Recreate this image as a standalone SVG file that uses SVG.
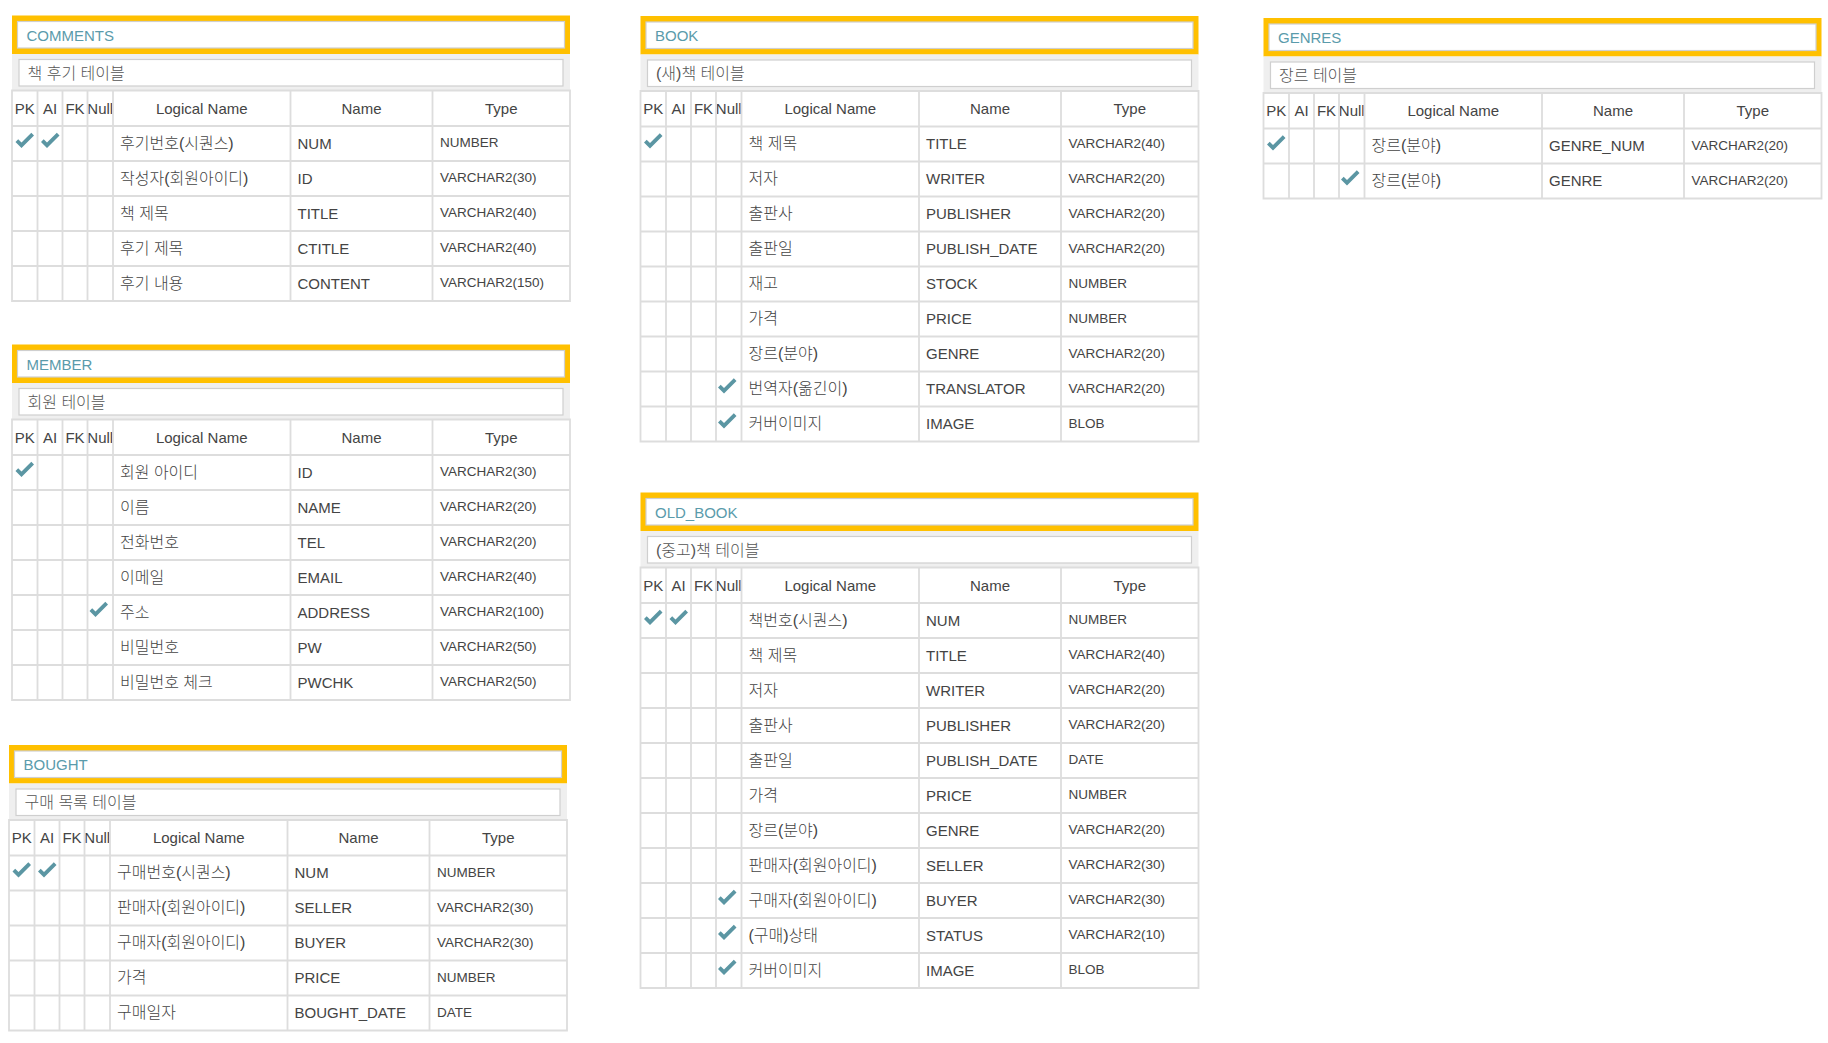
<svg xmlns="http://www.w3.org/2000/svg" xmlns:xlink="http://www.w3.org/1999/xlink" width="1828" height="1043" viewBox="0 0 1828 1043">
<style>
text{font-family:"Liberation Sans","Noto Sans CJK KR",Arial,sans-serif}
.ob{fill:#FFC000}
.ib{fill:#fff;stroke:#cfcfcf;stroke-width:1.2}
.sb{fill:#efefef}
.g{fill:none;stroke:#dddddd;stroke-width:1.8}
.t{font-size:15px;fill:#5a9bab}
.s{font-size:16px;fill:#555;font-weight:300}
.h{font-size:15px;fill:#444;text-anchor:middle}
.d{font-size:15px;fill:#444}
.k{font-size:16px;fill:#444;font-weight:300}
.y{font-size:13.5px;fill:#444}
.ck{fill:#5b96a3}
</style>
<defs>
<path id="ck" class="ck" d="M3.5,16 L6.2,13.3 L9.5,16.6 L19.3,6.8 L22,9.5 L9.5,22 Z"/>
<g id="hdr">
<rect class="ob" x="0" y="0" width="558" height="38.5"/>
<rect class="ib" x="5.5" y="6" width="547" height="26.5"/>
<rect class="sb" x="0" y="38.5" width="558" height="36.5"/>
<rect class="ib" x="7" y="44" width="544" height="26.5"/>
<text class="h" x="12.75" y="98">PK</text>
<text class="h" x="38" y="98">AI</text>
<text class="h" x="63" y="98">FK</text>
<text class="h" x="88.25" y="98">Null</text>
<text class="h" x="189.75" y="98">Logical Name</text>
<text class="h" x="349.5" y="98">Name</text>
<text class="h" x="489.25" y="98">Type</text>
</g>
</defs>
<g id="connectors"/>

<g id="comments" transform="translate(12,15.5)">
<use xlink:href="#hdr"/>
<path class="g" d="M0,75H558V285.5H0Z M25.5,75V285.5 M50.5,75V285.5 M75.5,75V285.5 M101,75V285.5 M278.5,75V285.5 M420.5,75V285.5 M0,110.5H558 M0,145.5H558 M0,180.5H558 M0,215.5H558 M0,250.5H558"/>
<text class="t" x="14.5" y="25">COMMENTS</text>
<text class="s" x="15.5" y="63">책 후기 테이블</text>
<use xlink:href="#ck" x="0" y="110.5"/><use xlink:href="#ck" x="25.5" y="110.5"/>
<text class="k" x="108" y="133">후기번호(시퀀스)</text><text class="d" x="285.5" y="133">NUM</text><text class="y" x="428" y="131.5">NUMBER</text>
<text class="k" x="108" y="168">작성자(회원아이디)</text><text class="d" x="285.5" y="168">ID</text><text class="y" x="428" y="166.5">VARCHAR2(30)</text>
<text class="k" x="108" y="203">책 제목</text><text class="d" x="285.5" y="203">TITLE</text><text class="y" x="428" y="201.5">VARCHAR2(40)</text>
<text class="k" x="108" y="238">후기 제목</text><text class="d" x="285.5" y="238">CTITLE</text><text class="y" x="428" y="236.5">VARCHAR2(40)</text>
<text class="k" x="108" y="273">후기 내용</text><text class="d" x="285.5" y="273">CONTENT</text><text class="y" x="428" y="271.5">VARCHAR2(150)</text>
</g>

<g id="member" transform="translate(12,344.5)">
<use xlink:href="#hdr"/>
<path class="g" d="M0,75H558V355.5H0Z M25.5,75V355.5 M50.5,75V355.5 M75.5,75V355.5 M101,75V355.5 M278.5,75V355.5 M420.5,75V355.5 M0,110.5H558 M0,145.5H558 M0,180.5H558 M0,215.5H558 M0,250.5H558 M0,285.5H558 M0,320.5H558"/>
<text class="t" x="14.5" y="25">MEMBER</text>
<text class="s" x="15.5" y="63">회원 테이블</text>
<use xlink:href="#ck" x="0" y="110.5"/>
<use xlink:href="#ck" x="74" y="250.5"/>
<text class="k" x="108" y="133">회원 아이디</text><text class="d" x="285.5" y="133">ID</text><text class="y" x="428" y="131.5">VARCHAR2(30)</text>
<text class="k" x="108" y="168">이름</text><text class="d" x="285.5" y="168">NAME</text><text class="y" x="428" y="166.5">VARCHAR2(20)</text>
<text class="k" x="108" y="203">전화번호</text><text class="d" x="285.5" y="203">TEL</text><text class="y" x="428" y="201.5">VARCHAR2(20)</text>
<text class="k" x="108" y="238">이메일</text><text class="d" x="285.5" y="238">EMAIL</text><text class="y" x="428" y="236.5">VARCHAR2(40)</text>
<text class="k" x="108" y="273">주소</text><text class="d" x="285.5" y="273">ADDRESS</text><text class="y" x="428" y="271.5">VARCHAR2(100)</text>
<text class="k" x="108" y="308">비밀번호</text><text class="d" x="285.5" y="308">PW</text><text class="y" x="428" y="306.5">VARCHAR2(50)</text>
<text class="k" x="108" y="343">비밀번호 체크</text><text class="d" x="285.5" y="343">PWCHK</text><text class="y" x="428" y="341.5">VARCHAR2(50)</text>
</g>

<g id="bought" transform="translate(9,745)">
<use xlink:href="#hdr"/>
<path class="g" d="M0,75H558V285.5H0Z M25.5,75V285.5 M50.5,75V285.5 M75.5,75V285.5 M101,75V285.5 M278.5,75V285.5 M420.5,75V285.5 M0,110.5H558 M0,145.5H558 M0,180.5H558 M0,215.5H558 M0,250.5H558"/>
<text class="t" x="14.5" y="25">BOUGHT</text>
<text class="s" x="15.5" y="63">구매 목록 테이블</text>
<use xlink:href="#ck" x="0" y="110.5"/><use xlink:href="#ck" x="25.5" y="110.5"/>
<text class="k" x="108" y="133">구매번호(시퀀스)</text><text class="d" x="285.5" y="133">NUM</text><text class="y" x="428" y="131.5">NUMBER</text>
<text class="k" x="108" y="168">판매자(회원아이디)</text><text class="d" x="285.5" y="168">SELLER</text><text class="y" x="428" y="166.5">VARCHAR2(30)</text>
<text class="k" x="108" y="203">구매자(회원아이디)</text><text class="d" x="285.5" y="203">BUYER</text><text class="y" x="428" y="201.5">VARCHAR2(30)</text>
<text class="k" x="108" y="238">가격</text><text class="d" x="285.5" y="238">PRICE</text><text class="y" x="428" y="236.5">NUMBER</text>
<text class="k" x="108" y="273">구매일자</text><text class="d" x="285.5" y="273">BOUGHT_DATE</text><text class="y" x="428" y="271.5">DATE</text>
</g>

<g id="book" transform="translate(640.5,16)">
<use xlink:href="#hdr"/>
<path class="g" d="M0,75H558V425.5H0Z M25.5,75V425.5 M50.5,75V425.5 M75.5,75V425.5 M101,75V425.5 M278.5,75V425.5 M420.5,75V425.5 M0,110.5H558 M0,145.5H558 M0,180.5H558 M0,215.5H558 M0,250.5H558 M0,285.5H558 M0,320.5H558 M0,355.5H558 M0,390.5H558"/>
<text class="t" x="14.5" y="25">BOOK</text>
<text class="s" x="15.5" y="63">(새)책 테이블</text>
<use xlink:href="#ck" x="0" y="110.5"/>
<use xlink:href="#ck" x="74" y="355.5"/>
<use xlink:href="#ck" x="74" y="390.5"/>
<text class="k" x="108" y="133">책 제목</text><text class="d" x="285.5" y="133">TITLE</text><text class="y" x="428" y="131.5">VARCHAR2(40)</text>
<text class="k" x="108" y="168">저자</text><text class="d" x="285.5" y="168">WRITER</text><text class="y" x="428" y="166.5">VARCHAR2(20)</text>
<text class="k" x="108" y="203">출판사</text><text class="d" x="285.5" y="203">PUBLISHER</text><text class="y" x="428" y="201.5">VARCHAR2(20)</text>
<text class="k" x="108" y="238">출판일</text><text class="d" x="285.5" y="238">PUBLISH_DATE</text><text class="y" x="428" y="236.5">VARCHAR2(20)</text>
<text class="k" x="108" y="273">재고</text><text class="d" x="285.5" y="273">STOCK</text><text class="y" x="428" y="271.5">NUMBER</text>
<text class="k" x="108" y="308">가격</text><text class="d" x="285.5" y="308">PRICE</text><text class="y" x="428" y="306.5">NUMBER</text>
<text class="k" x="108" y="343">장르(분야)</text><text class="d" x="285.5" y="343">GENRE</text><text class="y" x="428" y="341.5">VARCHAR2(20)</text>
<text class="k" x="108" y="378">번역자(옮긴이)</text><text class="d" x="285.5" y="378">TRANSLATOR</text><text class="y" x="428" y="376.5">VARCHAR2(20)</text>
<text class="k" x="108" y="413">커버이미지</text><text class="d" x="285.5" y="413">IMAGE</text><text class="y" x="428" y="411.5">BLOB</text>
</g>

<g id="old_book" transform="translate(640.5,492.5)">
<use xlink:href="#hdr"/>
<path class="g" d="M0,75H558V495.5H0Z M25.5,75V495.5 M50.5,75V495.5 M75.5,75V495.5 M101,75V495.5 M278.5,75V495.5 M420.5,75V495.5 M0,110.5H558 M0,145.5H558 M0,180.5H558 M0,215.5H558 M0,250.5H558 M0,285.5H558 M0,320.5H558 M0,355.5H558 M0,390.5H558 M0,425.5H558 M0,460.5H558"/>
<text class="t" x="14.5" y="25">OLD_BOOK</text>
<text class="s" x="15.5" y="63">(중고)책 테이블</text>
<use xlink:href="#ck" x="0" y="110.5"/><use xlink:href="#ck" x="25.5" y="110.5"/>
<use xlink:href="#ck" x="74" y="390.5"/>
<use xlink:href="#ck" x="74" y="425.5"/>
<use xlink:href="#ck" x="74" y="460.5"/>
<text class="k" x="108" y="133">책번호(시퀀스)</text><text class="d" x="285.5" y="133">NUM</text><text class="y" x="428" y="131.5">NUMBER</text>
<text class="k" x="108" y="168">책 제목</text><text class="d" x="285.5" y="168">TITLE</text><text class="y" x="428" y="166.5">VARCHAR2(40)</text>
<text class="k" x="108" y="203">저자</text><text class="d" x="285.5" y="203">WRITER</text><text class="y" x="428" y="201.5">VARCHAR2(20)</text>
<text class="k" x="108" y="238">출판사</text><text class="d" x="285.5" y="238">PUBLISHER</text><text class="y" x="428" y="236.5">VARCHAR2(20)</text>
<text class="k" x="108" y="273">출판일</text><text class="d" x="285.5" y="273">PUBLISH_DATE</text><text class="y" x="428" y="271.5">DATE</text>
<text class="k" x="108" y="308">가격</text><text class="d" x="285.5" y="308">PRICE</text><text class="y" x="428" y="306.5">NUMBER</text>
<text class="k" x="108" y="343">장르(분야)</text><text class="d" x="285.5" y="343">GENRE</text><text class="y" x="428" y="341.5">VARCHAR2(20)</text>
<text class="k" x="108" y="378">판매자(회원아이디)</text><text class="d" x="285.5" y="378">SELLER</text><text class="y" x="428" y="376.5">VARCHAR2(30)</text>
<text class="k" x="108" y="413">구매자(회원아이디)</text><text class="d" x="285.5" y="413">BUYER</text><text class="y" x="428" y="411.5">VARCHAR2(30)</text>
<text class="k" x="108" y="448">(구매)상태</text><text class="d" x="285.5" y="448">STATUS</text><text class="y" x="428" y="446.5">VARCHAR2(10)</text>
<text class="k" x="108" y="483">커버이미지</text><text class="d" x="285.5" y="483">IMAGE</text><text class="y" x="428" y="481.5">BLOB</text>
</g>

<g id="genres" transform="translate(1263.5,18)">
<use xlink:href="#hdr"/>
<path class="g" d="M0,75H558V180.5H0Z M25.5,75V180.5 M50.5,75V180.5 M75.5,75V180.5 M101,75V180.5 M278.5,75V180.5 M420.5,75V180.5 M0,110.5H558 M0,145.5H558"/>
<text class="t" x="14.5" y="25">GENRES</text>
<text class="s" x="15.5" y="63">장르 테이블</text>
<use xlink:href="#ck" x="0" y="110.5"/>
<use xlink:href="#ck" x="74" y="145.5"/>
<text class="k" x="108" y="133">장르(분야)</text><text class="d" x="285.5" y="133">GENRE_NUM</text><text class="y" x="428" y="131.5">VARCHAR2(20)</text>
<text class="k" x="108" y="168">장르(분야)</text><text class="d" x="285.5" y="168">GENRE</text><text class="y" x="428" y="166.5">VARCHAR2(20)</text>
</g>
</svg>
